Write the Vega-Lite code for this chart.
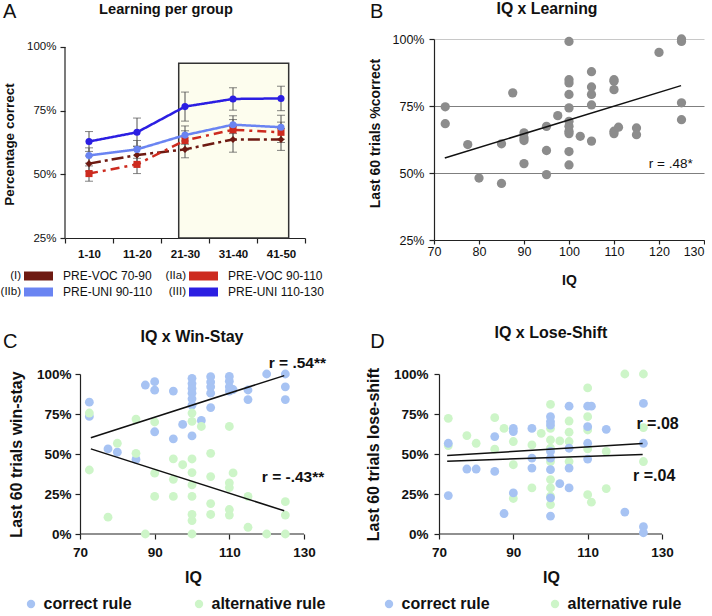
{
"$schema": "https://vega.github.io/schema/vega-lite/v6.json",
"background": "white",
"padding": {"left": 0, "top": 0, "right": 0, "bottom": 0},
"config": {
  "font": "Liberation Sans",
  "view": {"stroke": null},
  "axis": {"domainColor": "#222222", "tickColor": "#222222", "labelColor": "#111111", "titleColor": "#111111", "grid": false, "labelBound": false, "domainWidth": 1.2, "tickWidth": 1.2},
  "text": {"font": "Liberation Sans", "color": "#111111"}
},
"columns": 2,
"bounds": "flush",
"spacing": {"row": 134, "column": 129},
"resolve": {"scale": {"color": "independent", "x": "independent", "y": "independent"}, "legend": {"color": "independent"}},
"concat": [
{
  "width": 240, "height": 201,
  "resolve": {"scale": {"x": "independent", "y": "independent"}, "axis": {"x": "independent", "y": "independent"}},
  "layer": [
    {
      "data": {"values": [
        {"bin":1,"group":"I","mean":54.2,"lo":51.2,"hi":57.2},
        {"bin":2,"group":"I","mean":57.6,"lo":54.1,"hi":61.1},
        {"bin":3,"group":"I","mean":59.8,"lo":56.5,"hi":63.1},
        {"bin":4,"group":"I","mean":63.7,"lo":58.7,"hi":68.7},
        {"bin":5,"group":"I","mean":63.7,"lo":59.4,"hi":68.0},
        {"bin":1,"group":"IIa","mean":50.3,"lo":47.3,"hi":53.3},
        {"bin":2,"group":"IIa","mean":53.9,"lo":50.3,"hi":57.5},
        {"bin":3,"group":"IIa","mean":63.3,"lo":59.5,"hi":67.1},
        {"bin":4,"group":"IIa","mean":67.5,"lo":63.5,"hi":71.5},
        {"bin":5,"group":"IIa","mean":66.5,"lo":62.5,"hi":70.5},
        {"bin":1,"group":"IIb","mean":57.4,"lo":54.4,"hi":60.4},
        {"bin":2,"group":"IIb","mean":59.8,"lo":56.3,"hi":63.3},
        {"bin":3,"group":"IIb","mean":65.4,"lo":61.8,"hi":69.0},
        {"bin":4,"group":"IIb","mean":69.5,"lo":66.0,"hi":73.0},
        {"bin":5,"group":"IIb","mean":68.5,"lo":63.8,"hi":73.2},
        {"bin":1,"group":"III","mean":62.9,"lo":59.0,"hi":66.8},
        {"bin":2,"group":"III","mean":66.5,"lo":60.9,"hi":72.1},
        {"bin":3,"group":"III","mean":76.6,"lo":70.9,"hi":82.3},
        {"bin":4,"group":"III","mean":79.6,"lo":75.2,"hi":84.0},
        {"bin":5,"group":"III","mean":79.8,"lo":75.0,"hi":84.6}
      ]},
      "layer": [
        {"data": {"values": [{}]}, "mark": {"type": "rect", "fill": "#fdfdee", "stroke": "#333333", "strokeWidth": 1.5}, "encoding": {"x": {"datum": 2.869, "type": "quantitative"}, "x2": {"datum": 5.16}, "y": {"datum": 25, "type": "quantitative"}, "y2": {"datum": 93.6}}},
        {"data": {"values": [{}]}, "mark": {"type": "rule", "color": "#222222", "strokeWidth": 1.2}, "encoding": {"x": {"datum": 0.5, "type": "quantitative"}, "y": {"datum": 25, "type": "quantitative"}, "y2": {"datum": 100}}},
        {"mark": {"type": "rule", "color": "#505050", "strokeWidth": 1}, "encoding": {
          "x": {"field": "bin", "type": "quantitative", "scale": {"domain": [0.5, 5.5], "nice": false, "zero": false}},
          "y": {"field": "lo", "type": "quantitative", "scale": {"domain": [24.215, 103.141], "nice": false, "zero": false}}, "y2": {"field": "hi"}}},
        {"mark": {"type": "tick", "orient": "horizontal", "size": 8, "thickness": 1, "color": "#505050"}, "encoding": {
          "x": {"field": "bin", "type": "quantitative", "scale": {"domain": [0.5, 5.5], "nice": false, "zero": false}},
          "y": {"field": "lo", "type": "quantitative", "scale": {"domain": [24.215, 103.141], "nice": false, "zero": false}}}},
        {"mark": {"type": "tick", "orient": "horizontal", "size": 8, "thickness": 1, "color": "#505050"}, "encoding": {
          "x": {"field": "bin", "type": "quantitative", "scale": {"domain": [0.5, 5.5], "nice": false, "zero": false}},
          "y": {"field": "hi", "type": "quantitative", "scale": {"domain": [24.215, 103.141], "nice": false, "zero": false}}}},
        {"mark": {"type": "line", "strokeWidth": 2.5}, "encoding": {
          "x": {"field": "bin", "type": "quantitative", "scale": {"domain": [0.5, 5.5], "nice": false, "zero": false},
            "axis": {"values": [0.5,1.5,2.5,3.5,4.5,5.5], "tickCount": 10, "labelExpr": "datum.value==0.5?'1-10':datum.value==1.5?'11-20':datum.value==2.5?'21-30':datum.value==3.5?'31-40':datum.value==4.5?'41-50':''", "labelOffset": 24, "labelFontWeight": "bold", "labelFontSize": 11.5, "title": null, "tickSize": 5, "offset": -2, "labelPadding": 5, "labelOverlap": false, "labelFlush": false}},
          "y": {"field": "mean", "type": "quantitative", "scale": {"domain": [24.215, 103.141], "nice": false, "zero": false},
            "axis": {"values": [25,50,75,100], "tickCount": 10, "labelExpr": "datum.value+'%'", "title": "Percentage correct", "titleFontSize": 13.5, "titleFontWeight": "bold", "domain": false, "tickSize": 5, "labelFontSize": 11.5, "labelPadding": 4, "titlePadding": 10, "titleY": 105, "labelOverlap": false, "labelFlush": false}},
          "color": {"field": "group", "type": "nominal", "scale": {"domain": ["I","IIa","IIb","III"], "range": ["#6e1a12","#cd2b1f","#6a84f2","#2b1ee2"]}, "legend": null},
          "strokeDash": {"field": "group", "type": "nominal", "scale": {"domain": ["I","IIa","IIb","III"], "range": [[12,4,3,4],[9,5,3,5],[1,0],[1,0]]}, "legend": null}}},
        {"mark": {"type": "point", "filled": true, "opacity": 1, "size": 50}, "encoding": {
          "x": {"field": "bin", "type": "quantitative", "scale": {"domain": [0.5, 5.5], "nice": false, "zero": false}},
          "y": {"field": "mean", "type": "quantitative", "scale": {"domain": [24.215, 103.141], "nice": false, "zero": false}},
          "color": {"field": "group", "type": "nominal", "legend": null},
          "shape": {"field": "group", "type": "nominal", "scale": {"domain": ["I","IIa","IIb","III"], "range": ["diamond","square","circle","circle"]}, "legend": null}}},
        {"data": {"values": [{"t": "Learning per group"}]}, "mark": {"type": "text", "fontSize": 14.6, "fontWeight": "bold", "align": "center", "baseline": "alphabetic"}, "encoding": {"x": {"datum": 2.604, "type": "quantitative"}, "y": {"datum": 112.96, "type": "quantitative"}, "text": {"field": "t"}}},
        {"data": {"values": [{"t": "A"}]}, "mark": {"type": "text", "fontSize": 20, "align": "left", "baseline": "alphabetic"}, "encoding": {"x": {"datum": -0.7917, "type": "quantitative"}, "y": {"datum": 111.27, "type": "quantitative"}, "text": {"field": "t"}}}
      ]
    },
    {
      "data": {"values": [
        {"group": "I", "prefix": "(I)", "name": "PRE-VOC 70-90", "col": 0, "row": 0},
        {"group": "IIa", "prefix": "(IIa)", "name": "PRE-VOC 90-110", "col": 1, "row": 0},
        {"group": "IIb", "prefix": "(IIb)", "name": "PRE-UNI  90-110", "col": 0, "row": 1},
        {"group": "III", "prefix": "(III)", "name": "PRE-UNI 110-130", "col": 1, "row": 1}
      ]},
      "encoding": {
        "x": {"field": "col", "type": "quantitative", "scale": {"domain": [0.26667, 1.72121], "nice": false, "zero": false}, "axis": null},
        "y": {"field": "row", "type": "quantitative", "scale": {"domain": [-14.8125, -2.25], "reverse": true, "nice": false, "zero": false}, "axis": null}
      },
      "layer": [
        {"mark": {"type": "text", "align": "right", "baseline": "middle", "fontSize": 11.5}, "encoding": {"text": {"field": "prefix"}}},
        {"mark": {"type": "point", "shape": "M3,-4.5H32V4.5H3Z", "size": 4, "filled": true, "opacity": 1, "strokeWidth": 0}, "encoding": {"color": {"field": "group", "type": "nominal", "legend": null}}},
        {"mark": {"type": "text", "align": "left", "baseline": "middle", "fontSize": 12, "dx": 42}, "encoding": {"text": {"field": "name"}}}
      ]
    }
  ]
},
{
  "width": 270, "height": 201,
  "layer": [
    {"data": {"values": [
      {"iq":72.5,"pct":74.7},{"iq":72.5,"pct":68.4},{"iq":77.5,"pct":60.6},{"iq":80,"pct":48.1},{"iq":85,"pct":46.1},{"iq":85,"pct":60.9},{"iq":87.5,"pct":79.9},
      {"iq":90,"pct":65},{"iq":90,"pct":63.1},{"iq":90,"pct":62.1},{"iq":90,"pct":53.5},{"iq":95,"pct":67.4},{"iq":95,"pct":58.4},{"iq":95,"pct":49.4},{"iq":97.5,"pct":71.4},
      {"iq":100,"pct":99.1},{"iq":100,"pct":84.8},{"iq":100,"pct":83.6},{"iq":100,"pct":79.3},{"iq":100,"pct":74.3},{"iq":100,"pct":69.3},{"iq":100,"pct":67.4},{"iq":100,"pct":65.6},{"iq":100,"pct":64.7},{"iq":100,"pct":58},{"iq":100,"pct":53},
      {"iq":102.5,"pct":63.7},{"iq":105,"pct":87.8},{"iq":105,"pct":82.1},{"iq":105,"pct":79.3},{"iq":105,"pct":75.4},{"iq":105,"pct":61.9},
      {"iq":110,"pct":84.8},{"iq":110,"pct":84.2},{"iq":110,"pct":81.1},{"iq":110,"pct":65.6},{"iq":110,"pct":64.7},{"iq":111,"pct":67.1},{"iq":115,"pct":66.8},{"iq":115,"pct":64.3},
      {"iq":120,"pct":95},{"iq":125,"pct":100},{"iq":125,"pct":99.1},{"iq":125,"pct":76.2},{"iq":125,"pct":69.9}
    ]},
     "mark": {"type": "circle", "size": 86, "color": "#8c8c8c", "opacity": 1},
     "encoding": {
       "x": {"field": "iq", "type": "quantitative", "scale": {"domain": [70,130], "nice": false, "zero": false},
         "axis": {"values": [70,80,90,100,110,120,130], "tickCount": 10, "title": "IQ", "titleFontSize": 14, "titleFontWeight": "bold", "labelFontSize": 12.5, "tickSize": 4, "labelPadding": 1, "titlePadding": 16, "labelOverlap": false, "labelFlush": false, "labelAlign": {"condition": {"test": "datum.value >= 130", "value": "right"}, "value": "center"}}},
       "y": {"field": "pct", "type": "quantitative", "scale": {"domain": [25,100], "nice": false, "zero": false},
         "axis": {"values": [25,50,75,100], "tickCount": 10, "labelExpr": "datum.value+'%'", "grid": true, "gridColor": {"condition": {"test": "datum.value>=100", "value": "#c8c8c8"}, "value": "#7f7f7f"}, "gridWidth": 1, "title": "Last 60 trials  %correct", "titleFontSize": 14, "titleFontWeight": "bold", "labelFontSize": 12.5, "tickSize": 5, "labelPadding": 5, "titlePadding": 10, "titleY": 94, "labelOverlap": false, "labelFlush": false}}
     }},
    {"data": {"values": [{"iq":72.4,"pct":55.6},{"iq":124.9,"pct":82.6}]}, "mark": {"type": "line", "color": "#111111", "strokeWidth": 1.5}, "encoding": {"x": {"field": "iq", "type": "quantitative"}, "y": {"field": "pct", "type": "quantitative"}}},
    {"data": {"values": [{"t": "r = .48*"}]}, "mark": {"type": "text", "align": "right", "fontSize": 13.5, "baseline": "alphabetic"}, "encoding": {"x": {"datum": 127.5}, "y": {"datum": 51.9}, "text": {"field": "t"}}},
    {"data": {"values": [{"t": "IQ x Learning"}]}, "mark": {"type": "text", "fontSize": 15.8, "fontWeight": "bold", "align": "center", "baseline": "alphabetic"}, "encoding": {"x": {"datum": 95.11}, "y": {"datum": 109.33}, "text": {"field": "t"}}},
    {"data": {"values": [{"t": "B"}]}, "mark": {"type": "text", "fontSize": 20, "align": "left", "baseline": "alphabetic"}, "encoding": {"x": {"datum": 55.78}, "y": {"datum": 107.95}, "text": {"field": "t"}}}
  ]
},
{
  "width": 239, "height": 160,
  "layer": [
    {"data": {"values": [{}]}, "mark": {"type": "rule", "color": "#222222", "strokeWidth": 1.2}, "encoding": {"x": {"datum": 70}, "x2": {"datum": 130}, "y": {"datum": 0}}},
    {"data": {"values": [
      {"iq":72.5,"pct":82.4,"rule":"correct rule"},{"iq":72.5,"pct":73.5,"rule":"correct rule"},{"iq":77.5,"pct":53.2,"rule":"correct rule"},{"iq":80,"pct":51.1,"rule":"correct rule"},{"iq":85,"pct":46.6,"rule":"correct rule"},
      {"iq":87.5,"pct":93.1,"rule":"correct rule"},{"iq":90,"pct":95.2,"rule":"correct rule"},{"iq":90,"pct":89.9,"rule":"correct rule"},{"iq":90,"pct":63.9,"rule":"correct rule"},
      {"iq":95,"pct":89.3,"rule":"correct rule"},{"iq":95,"pct":59.5,"rule":"correct rule"},{"iq":97.5,"pct":68.5,"rule":"correct rule"},
      {"iq":100,"pct":97.3,"rule":"correct rule"},{"iq":100,"pct":94,"rule":"correct rule"},{"iq":100,"pct":91,"rule":"correct rule"},{"iq":100,"pct":88,"rule":"correct rule"},{"iq":100,"pct":84.5,"rule":"correct rule"},{"iq":100,"pct":80.5,"rule":"correct rule"},{"iq":100,"pct":61.3,"rule":"correct rule"},
      {"iq":102.5,"pct":71,"rule":"correct rule"},{"iq":105,"pct":98.3,"rule":"correct rule"},{"iq":105,"pct":95,"rule":"correct rule"},{"iq":105,"pct":92,"rule":"correct rule"},{"iq":105,"pct":88,"rule":"correct rule"},{"iq":105,"pct":79,"rule":"correct rule"},
      {"iq":110,"pct":98.5,"rule":"correct rule"},{"iq":110,"pct":95.5,"rule":"correct rule"},{"iq":110,"pct":92,"rule":"correct rule"},{"iq":110,"pct":89.3,"rule":"correct rule"},{"iq":111,"pct":90.3,"rule":"correct rule"},
      {"iq":115,"pct":90,"rule":"correct rule"},{"iq":115,"pct":84,"rule":"correct rule"},{"iq":120,"pct":100,"rule":"correct rule"},{"iq":125,"pct":100,"rule":"correct rule"},{"iq":125,"pct":92,"rule":"correct rule"},{"iq":125,"pct":84,"rule":"correct rule"},
      {"iq":72.5,"pct":75.6,"rule":"alternative rule"},{"iq":72.5,"pct":40,"rule":"alternative rule"},{"iq":77.5,"pct":10.5,"rule":"alternative rule"},{"iq":80,"pct":56.7,"rule":"alternative rule"},{"iq":85,"pct":71.8,"rule":"alternative rule"},{"iq":85,"pct":50.4,"rule":"alternative rule"},
      {"iq":87.5,"pct":0,"rule":"alternative rule"},{"iq":90,"pct":70,"rule":"alternative rule"},{"iq":90,"pct":38,"rule":"alternative rule"},{"iq":90,"pct":23.5,"rule":"alternative rule"},
      {"iq":95,"pct":47,"rule":"alternative rule"},{"iq":95,"pct":34.2,"rule":"alternative rule"},{"iq":95,"pct":23.5,"rule":"alternative rule"},{"iq":97.5,"pct":43.3,"rule":"alternative rule"},
      {"iq":100,"pct":75.6,"rule":"alternative rule"},{"iq":100,"pct":70.4,"rule":"alternative rule"},{"iq":100,"pct":46.9,"rule":"alternative rule"},{"iq":100,"pct":38.4,"rule":"alternative rule"},{"iq":100,"pct":30.7,"rule":"alternative rule"},{"iq":100,"pct":23.5,"rule":"alternative rule"},{"iq":100,"pct":12.2,"rule":"alternative rule"},{"iq":100,"pct":8.4,"rule":"alternative rule"},{"iq":100,"pct":0,"rule":"alternative rule"},
      {"iq":102.5,"pct":67.2,"rule":"alternative rule"},{"iq":105,"pct":50.4,"rule":"alternative rule"},{"iq":105,"pct":35.9,"rule":"alternative rule"},{"iq":105,"pct":19,"rule":"alternative rule"},{"iq":105,"pct":12.2,"rule":"alternative rule"},
      {"iq":110,"pct":67.2,"rule":"alternative rule"},{"iq":111,"pct":38.2,"rule":"alternative rule"},{"iq":110,"pct":32,"rule":"alternative rule"},{"iq":110,"pct":29,"rule":"alternative rule"},{"iq":110,"pct":15.3,"rule":"alternative rule"},{"iq":110,"pct":11.8,"rule":"alternative rule"},
      {"iq":115,"pct":23.5,"rule":"alternative rule"},{"iq":115,"pct":4.2,"rule":"alternative rule"},{"iq":120,"pct":0,"rule":"alternative rule"},{"iq":125,"pct":20.2,"rule":"alternative rule"},{"iq":125,"pct":11.8,"rule":"alternative rule"},{"iq":125,"pct":0,"rule":"alternative rule"}
    ]},
     "mark": {"type": "circle", "size": 78, "opacity": 1},
     "encoding": {
       "x": {"field": "iq", "type": "quantitative", "scale": {"domain": [65.98,130], "nice": false, "zero": false},
         "axis": {"values": [70,90,110,130], "tickCount": 10, "domain": false, "title": "IQ", "titleFontSize": 16, "titleFontWeight": "bold", "labelFontSize": 13.5, "labelFontWeight": "bold", "tickSize": 5, "labelPadding": 6, "titlePadding": 11, "titleX": 128, "labelOverlap": false, "labelFlush": false}},
       "y": {"field": "pct", "type": "quantitative", "scale": {"domain": [0,100], "nice": false, "zero": false},
         "axis": {"values": [0,25,50,75,100], "tickCount": 10, "labelExpr": "datum.value+'%'", "offset": -15, "title": "Last 60 trials win-stay", "titleFontSize": 16, "titleFontWeight": "bold", "labelFontSize": 13.5, "labelFontWeight": "bold", "tickSize": 5, "labelPadding": 4, "titlePadding": 12, "labelOverlap": false, "labelFlush": false}},
       "color": {"field": "rule", "type": "nominal", "scale": {"domain": ["correct rule","alternative rule"], "range": ["#a7c3f3","#cdf5c8"]},
         "legend": {"orient": "none", "legendX": -42, "legendY": 222, "direction": "horizontal", "title": null, "symbolType": "circle", "symbolSize": 70, "symbolStrokeWidth": 0, "symbolOpacity": 1, "labelFontSize": 16, "labelFontWeight": "bold", "labelColor": "#111111", "labelOffset": 4.5, "columnPadding": 59, "padding": 0, "labelLimit": 300}}
     }},
    {"data": {"values": [{"iq":72.9,"pct":60.2,"k":"a"},{"iq":124.7,"pct":99.0,"k":"a"},{"iq":72.9,"pct":53.2,"k":"b"},{"iq":124.7,"pct":14.5,"k":"b"}]}, "mark": {"type": "line", "color": "#111111", "strokeWidth": 1.5}, "encoding": {"x": {"field": "iq", "type": "quantitative"}, "y": {"field": "pct", "type": "quantitative"}, "detail": {"field": "k"}}},
    {"data": {"values": [{"t": "r = .54**", "iq": 135.9, "pct": 104.06}, {"t": "r = -.43**", "iq": 135.44, "pct": 32.19}]}, "mark": {"type": "text", "align": "right", "fontSize": 15.5, "fontWeight": "bold", "baseline": "alphabetic"}, "encoding": {"x": {"field": "iq", "type": "quantitative"}, "y": {"field": "pct", "type": "quantitative"}, "text": {"field": "t"}}},
    {"data": {"values": [{"t": "IQ x Win-Stay"}]}, "mark": {"type": "text", "fontSize": 16, "fontWeight": "bold", "align": "center", "baseline": "alphabetic"}, "encoding": {"x": {"datum": 100.0}, "y": {"datum": 120}, "text": {"field": "t"}}},
    {"data": {"values": [{"t": "C"}]}, "mark": {"type": "text", "fontSize": 20, "align": "left", "baseline": "alphabetic"}, "encoding": {"x": {"datum": 49.37}, "y": {"datum": 116.44}, "text": {"field": "t"}}}
  ]
},
{
  "width": 228, "height": 160,
  "layer": [
    {"data": {"values": [{}]}, "mark": {"type": "rule", "color": "#222222", "strokeWidth": 1.2}, "encoding": {"x": {"datum": 70}, "x2": {"datum": 130}, "y": {"datum": 0}}},
    {"data": {"values": [
      {"iq":72.5,"pct":72.3,"rule":"alternative rule"},{"iq":72.5,"pct":55.3,"rule":"alternative rule"},{"iq":77.5,"pct":61.5,"rule":"alternative rule"},{"iq":80,"pct":56.7,"rule":"alternative rule"},{"iq":85,"pct":72.7,"rule":"alternative rule"},{"iq":85,"pct":53,"rule":"alternative rule"},
      {"iq":87.5,"pct":66,"rule":"alternative rule"},{"iq":90,"pct":57.8,"rule":"alternative rule"},{"iq":90,"pct":43.3,"rule":"alternative rule"},{"iq":90,"pct":22.2,"rule":"alternative rule"},{"iq":95,"pct":55.7,"rule":"alternative rule"},{"iq":95,"pct":28.8,"rule":"alternative rule"},{"iq":97.5,"pct":62.9,"rule":"alternative rule"},
      {"iq":100,"pct":81,"rule":"alternative rule"},{"iq":100,"pct":66,"rule":"alternative rule"},{"iq":100,"pct":58.8,"rule":"alternative rule"},{"iq":100,"pct":53.6,"rule":"alternative rule"},{"iq":100,"pct":45.3,"rule":"alternative rule"},{"iq":100,"pct":34,"rule":"alternative rule"},{"iq":100,"pct":28.8,"rule":"alternative rule"},{"iq":100,"pct":23.6,"rule":"alternative rule"},{"iq":100,"pct":18.4,"rule":"alternative rule"},
      {"iq":102.5,"pct":58.2,"rule":"alternative rule"},{"iq":105,"pct":70.6,"rule":"alternative rule"},{"iq":105,"pct":63.6,"rule":"alternative rule"},{"iq":105,"pct":57.8,"rule":"alternative rule"},{"iq":105,"pct":45.3,"rule":"alternative rule"},
      {"iq":110,"pct":91.3,"rule":"alternative rule"},{"iq":110,"pct":73.3,"rule":"alternative rule"},{"iq":110,"pct":65,"rule":"alternative rule"},{"iq":110,"pct":53.2,"rule":"alternative rule"},{"iq":110,"pct":24.6,"rule":"alternative rule"},{"iq":111,"pct":19.9,"rule":"alternative rule"},
      {"iq":115,"pct":51.6,"rule":"alternative rule"},{"iq":115,"pct":28.4,"rule":"alternative rule"},{"iq":120,"pct":100,"rule":"alternative rule"},{"iq":125,"pct":100,"rule":"alternative rule"},{"iq":125,"pct":66.5,"rule":"alternative rule"},{"iq":125,"pct":45.3,"rule":"alternative rule"},
      {"iq":72.5,"pct":56.7,"rule":"correct rule"},{"iq":72.5,"pct":24,"rule":"correct rule"},{"iq":77.5,"pct":40.6,"rule":"correct rule"},{"iq":80,"pct":40.6,"rule":"correct rule"},{"iq":85,"pct":60.9,"rule":"correct rule"},{"iq":85,"pct":39.1,"rule":"correct rule"},
      {"iq":87.5,"pct":12.8,"rule":"correct rule"},{"iq":90,"pct":66,"rule":"correct rule"},{"iq":90,"pct":64,"rule":"correct rule"},{"iq":90,"pct":25.7,"rule":"correct rule"},{"iq":95,"pct":66,"rule":"correct rule"},{"iq":95,"pct":47.4,"rule":"correct rule"},{"iq":95,"pct":41.2,"rule":"correct rule"},
      {"iq":100,"pct":73.3,"rule":"correct rule"},{"iq":100,"pct":70.2,"rule":"correct rule"},{"iq":100,"pct":68.1,"rule":"correct rule"},{"iq":100,"pct":51.6,"rule":"correct rule"},{"iq":100,"pct":47.4,"rule":"correct rule"},{"iq":100,"pct":40.2,"rule":"correct rule"},{"iq":100,"pct":22.6,"rule":"correct rule"},{"iq":100,"pct":11.2,"rule":"correct rule"},
      {"iq":102.5,"pct":31.5,"rule":"correct rule"},{"iq":105,"pct":79.9,"rule":"correct rule"},{"iq":105,"pct":53.6,"rule":"correct rule"},{"iq":105,"pct":41.2,"rule":"correct rule"},{"iq":105,"pct":28.8,"rule":"correct rule"},
      {"iq":110,"pct":67.1,"rule":"correct rule"},{"iq":110,"pct":56.7,"rule":"correct rule"},{"iq":110,"pct":46.8,"rule":"correct rule"},{"iq":110,"pct":79.9,"rule":"correct rule"},{"iq":111,"pct":79.9,"rule":"correct rule"},
      {"iq":115,"pct":65.4,"rule":"correct rule"},{"iq":120,"pct":13.7,"rule":"correct rule"},{"iq":125,"pct":81.6,"rule":"correct rule"},{"iq":125,"pct":56.7,"rule":"correct rule"},{"iq":125,"pct":4.6,"rule":"correct rule"},{"iq":125,"pct":0.8,"rule":"correct rule"}
    ]},
     "mark": {"type": "circle", "size": 78, "opacity": 1},
     "encoding": {
       "x": {"field": "iq", "type": "quantitative", "scale": {"domain": [68.655,130], "nice": false, "zero": false},
         "axis": {"values": [70,90,110,130], "tickCount": 10, "domain": false, "title": "IQ", "titleFontSize": 16, "titleFontWeight": "bold", "labelFontSize": 13.5, "labelFontWeight": "bold", "tickSize": 5, "labelPadding": 6, "titlePadding": 11, "titleX": 117, "labelOverlap": false, "labelFlush": false}},
       "y": {"field": "pct", "type": "quantitative", "scale": {"domain": [0,100], "nice": false, "zero": false},
         "axis": {"values": [0,25,50,75,100], "tickCount": 10, "labelExpr": "datum.value+'%'", "offset": -5, "title": "Last 60 trials lose-shift", "titleFontSize": 16, "titleFontWeight": "bold", "labelFontSize": 13.5, "labelFontWeight": "bold", "tickSize": 5, "labelPadding": 6, "titlePadding": 12, "labelOverlap": false, "labelFlush": false}},
       "color": {"field": "rule", "type": "nominal", "scale": {"domain": ["correct rule","alternative rule"], "range": ["#a7c3f3","#cdf5c8"]},
         "legend": {"orient": "none", "legendX": -53, "legendY": 222, "direction": "horizontal", "title": null, "symbolType": "circle", "symbolSize": 70, "symbolStrokeWidth": 0, "symbolOpacity": 1, "labelFontSize": 16, "labelFontWeight": "bold", "labelColor": "#111111", "labelOffset": 4.5, "columnPadding": 57, "padding": 0, "labelLimit": 300}}
     }},
    {"data": {"values": [{"iq":72.2,"pct":49.0,"k":"a"},{"iq":124.8,"pct":56.5,"k":"a"},{"iq":72.2,"pct":45.5,"k":"b"},{"iq":124.8,"pct":49.7,"k":"b"}]}, "mark": {"type": "line", "color": "#111111", "strokeWidth": 1.5}, "encoding": {"x": {"field": "iq", "type": "quantitative"}, "y": {"field": "pct", "type": "quantitative"}, "detail": {"field": "k"}}},
    {"data": {"values": [{"t": "r =.08", "iq": 134.49, "pct": 65.6}, {"t": "r =.04", "iq": 133.58, "pct": 33.1}]}, "mark": {"type": "text", "align": "right", "fontSize": 16, "fontWeight": "bold", "baseline": "alphabetic"}, "encoding": {"x": {"field": "iq", "type": "quantitative"}, "y": {"field": "pct", "type": "quantitative"}, "text": {"field": "t"}}},
    {"data": {"values": [{"t": "IQ x Lose-Shift"}]}, "mark": {"type": "text", "fontSize": 16, "fontWeight": "bold", "align": "center", "baseline": "alphabetic"}, "encoding": {"x": {"datum": 100.13}, "y": {"datum": 122.5}, "text": {"field": "t"}}},
    {"data": {"values": [{"t": "D"}]}, "mark": {"type": "text", "fontSize": 20, "align": "left", "baseline": "alphabetic"}, "encoding": {"x": {"datum": 51.52}, "y": {"datum": 116.44}, "text": {"field": "t"}}}
  ]
}
]
}
